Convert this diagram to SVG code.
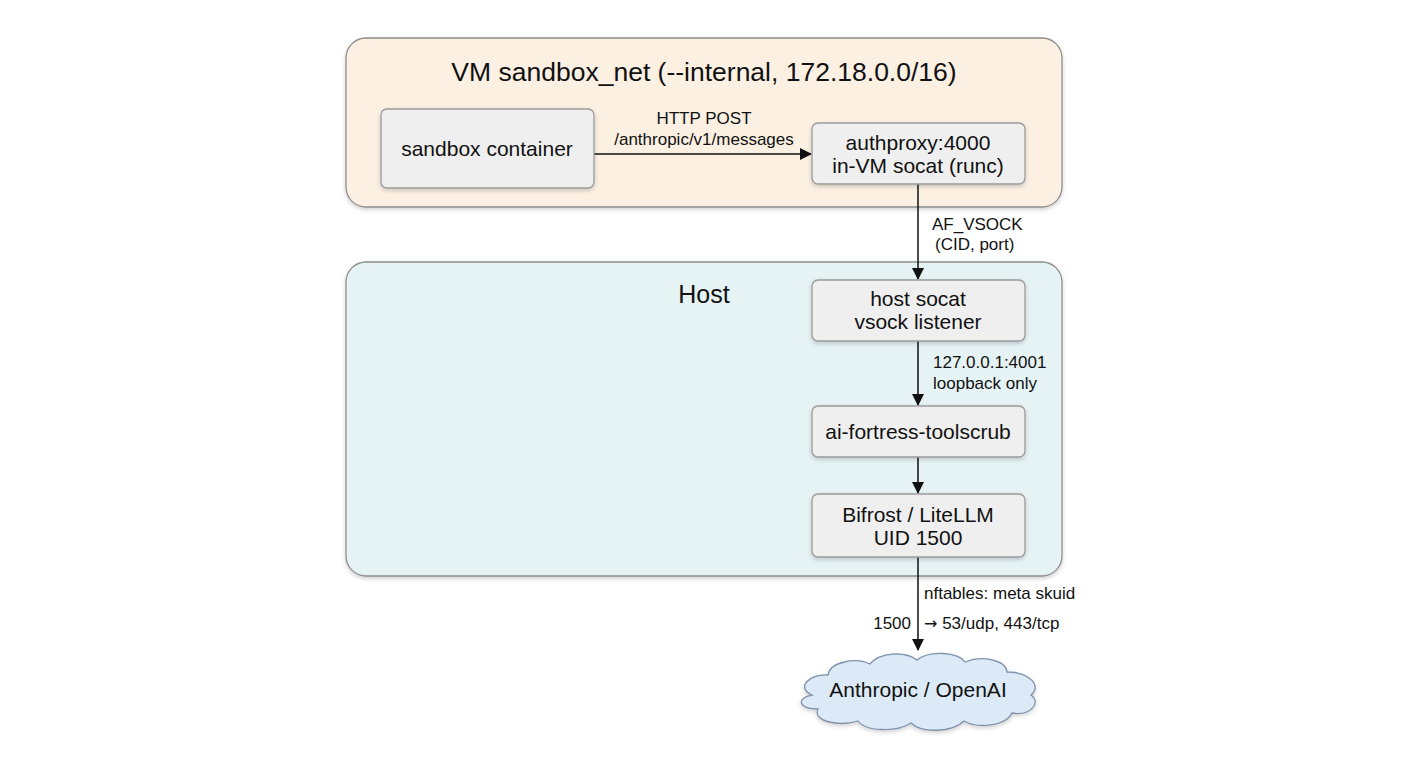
<svg xmlns="http://www.w3.org/2000/svg" width="1408" height="768" viewBox="0 0 1408 768">
<defs>
<style>
text{font-family:"Liberation Sans",Arial,sans-serif;fill:#111;}
.node{fill:#efefef;stroke:#9a9a9a;stroke-width:1.3;}
.lbl{font-size:21px;text-anchor:middle;}
.elbl{font-size:17px;}
.conn{stroke:#111;stroke-width:1.5;fill:none;}
</style>
<filter id="sh" x="-10%" y="-10%" width="120%" height="130%">
<feDropShadow dx="0" dy="2" stdDeviation="2" flood-color="#000" flood-opacity="0.18"/>
</filter>
<marker id="arr" markerWidth="12" markerHeight="12" refX="11" refY="6" orient="auto" markerUnits="userSpaceOnUse">
<path d="M0,0 L12,6 L0,12 Z" fill="#111"/>
</marker>
</defs>
<rect width="1408" height="768" fill="#ffffff"/>

<g id="vm">
<rect x="346" y="38" width="716" height="169" rx="20" fill="#fcf0e3" stroke="#8d8d8d" stroke-width="1.3" filter="url(#sh)"/>
<text x="704" y="81" font-size="26.5" text-anchor="middle">VM sandbox_net (--internal, 172.18.0.0/16)</text>
</g>

<g id="host">
<rect x="346" y="262" width="716" height="314" rx="20" fill="#e6f3f5" stroke="#8d8d8d" stroke-width="1.3" filter="url(#sh)"/>
<text x="704" y="303" font-size="25" text-anchor="middle">Host</text>
</g>

<g id="connectors">
<line class="conn" x1="594" y1="154" x2="811" y2="154" marker-end="url(#arr)"/>
<text class="elbl" x="704" y="124" text-anchor="middle">HTTP POST</text>
<text class="elbl" x="704" y="145" text-anchor="middle" font-size="18">/anthropic/v1/messages</text>
<line class="conn" x1="918" y1="184" x2="918" y2="279" marker-end="url(#arr)"/>
<text class="elbl" x="932" y="230">AF_VSOCK</text>
<text class="elbl" x="935" y="250">(CID, port)</text>
<line class="conn" x1="918" y1="341" x2="918" y2="405" marker-end="url(#arr)"/>
<text class="elbl" x="933" y="368">127.0.0.1:4001</text>
<text class="elbl" x="933" y="389">loopback only</text>
<line class="conn" x1="918" y1="457" x2="918" y2="493" marker-end="url(#arr)"/>
<line class="conn" x1="918" y1="557" x2="918" y2="650" marker-end="url(#arr)"/>
<text class="elbl" x="924" y="599" font-size="18">nftables: meta skuid</text>
<text class="elbl" x="911" y="629" text-anchor="end" font-size="18">1500</text>
<text class="elbl" x="924" y="629" font-size="18"><tspan font-family="'DejaVu Sans',sans-serif" font-size="16">→</tspan> 53/udp, 443/tcp</text>
</g>

<g id="sandbox-container">
<rect class="node" x="381" y="109" width="213" height="79" rx="6" filter="url(#sh)"/>
<text class="lbl" x="487" y="156">sandbox container</text>
</g>

<g id="authproxy">
<rect class="node" x="812" y="123" width="213" height="61" rx="6" filter="url(#sh)"/>
<text class="lbl" x="918" y="150">authproxy:4000</text>
<text class="lbl" x="918" y="173">in-VM socat (runc)</text>
</g>

<g id="host-socat">
<rect class="node" x="812" y="280" width="213" height="61" rx="6" filter="url(#sh)"/>
<text class="lbl" x="918" y="306">host socat</text>
<text class="lbl" x="918" y="329">vsock listener</text>
</g>

<g id="toolscrub">
<rect class="node" x="812" y="406" width="213" height="51" rx="6" filter="url(#sh)"/>
<text class="lbl" x="918" y="439">ai-fortress-toolscrub</text>
</g>

<g id="bifrost">
<rect class="node" x="812" y="494" width="213" height="63" rx="6" filter="url(#sh)"/>
<text class="lbl" x="918" y="522">Bifrost / LiteLLM</text>
<text class="lbl" x="918" y="545">UID 1500</text>
</g>

<g id="cloud">
<path d="M 812 695 C 796 688, 808 674, 828 675 C 830 662, 855 657, 870 664 C 880 652, 905 651, 917 660 C 930 650, 958 652, 965 662 C 982 655, 1006 660, 1007 672 C 1030 672, 1042 686, 1031 695 C 1042 703, 1030 716, 1012 713 C 1006 726, 978 729, 964 721 C 952 733, 921 733, 911 723 C 896 733, 865 731, 858 721 C 838 727, 812 721, 818 709 C 798 709, 796 698, 812 695 Z" fill="#dce9f6" stroke="#7f93ad" stroke-width="1.3" filter="url(#sh)"/>
<text class="lbl" x="918" y="697">Anthropic / OpenAI</text>
</g>
</svg>
